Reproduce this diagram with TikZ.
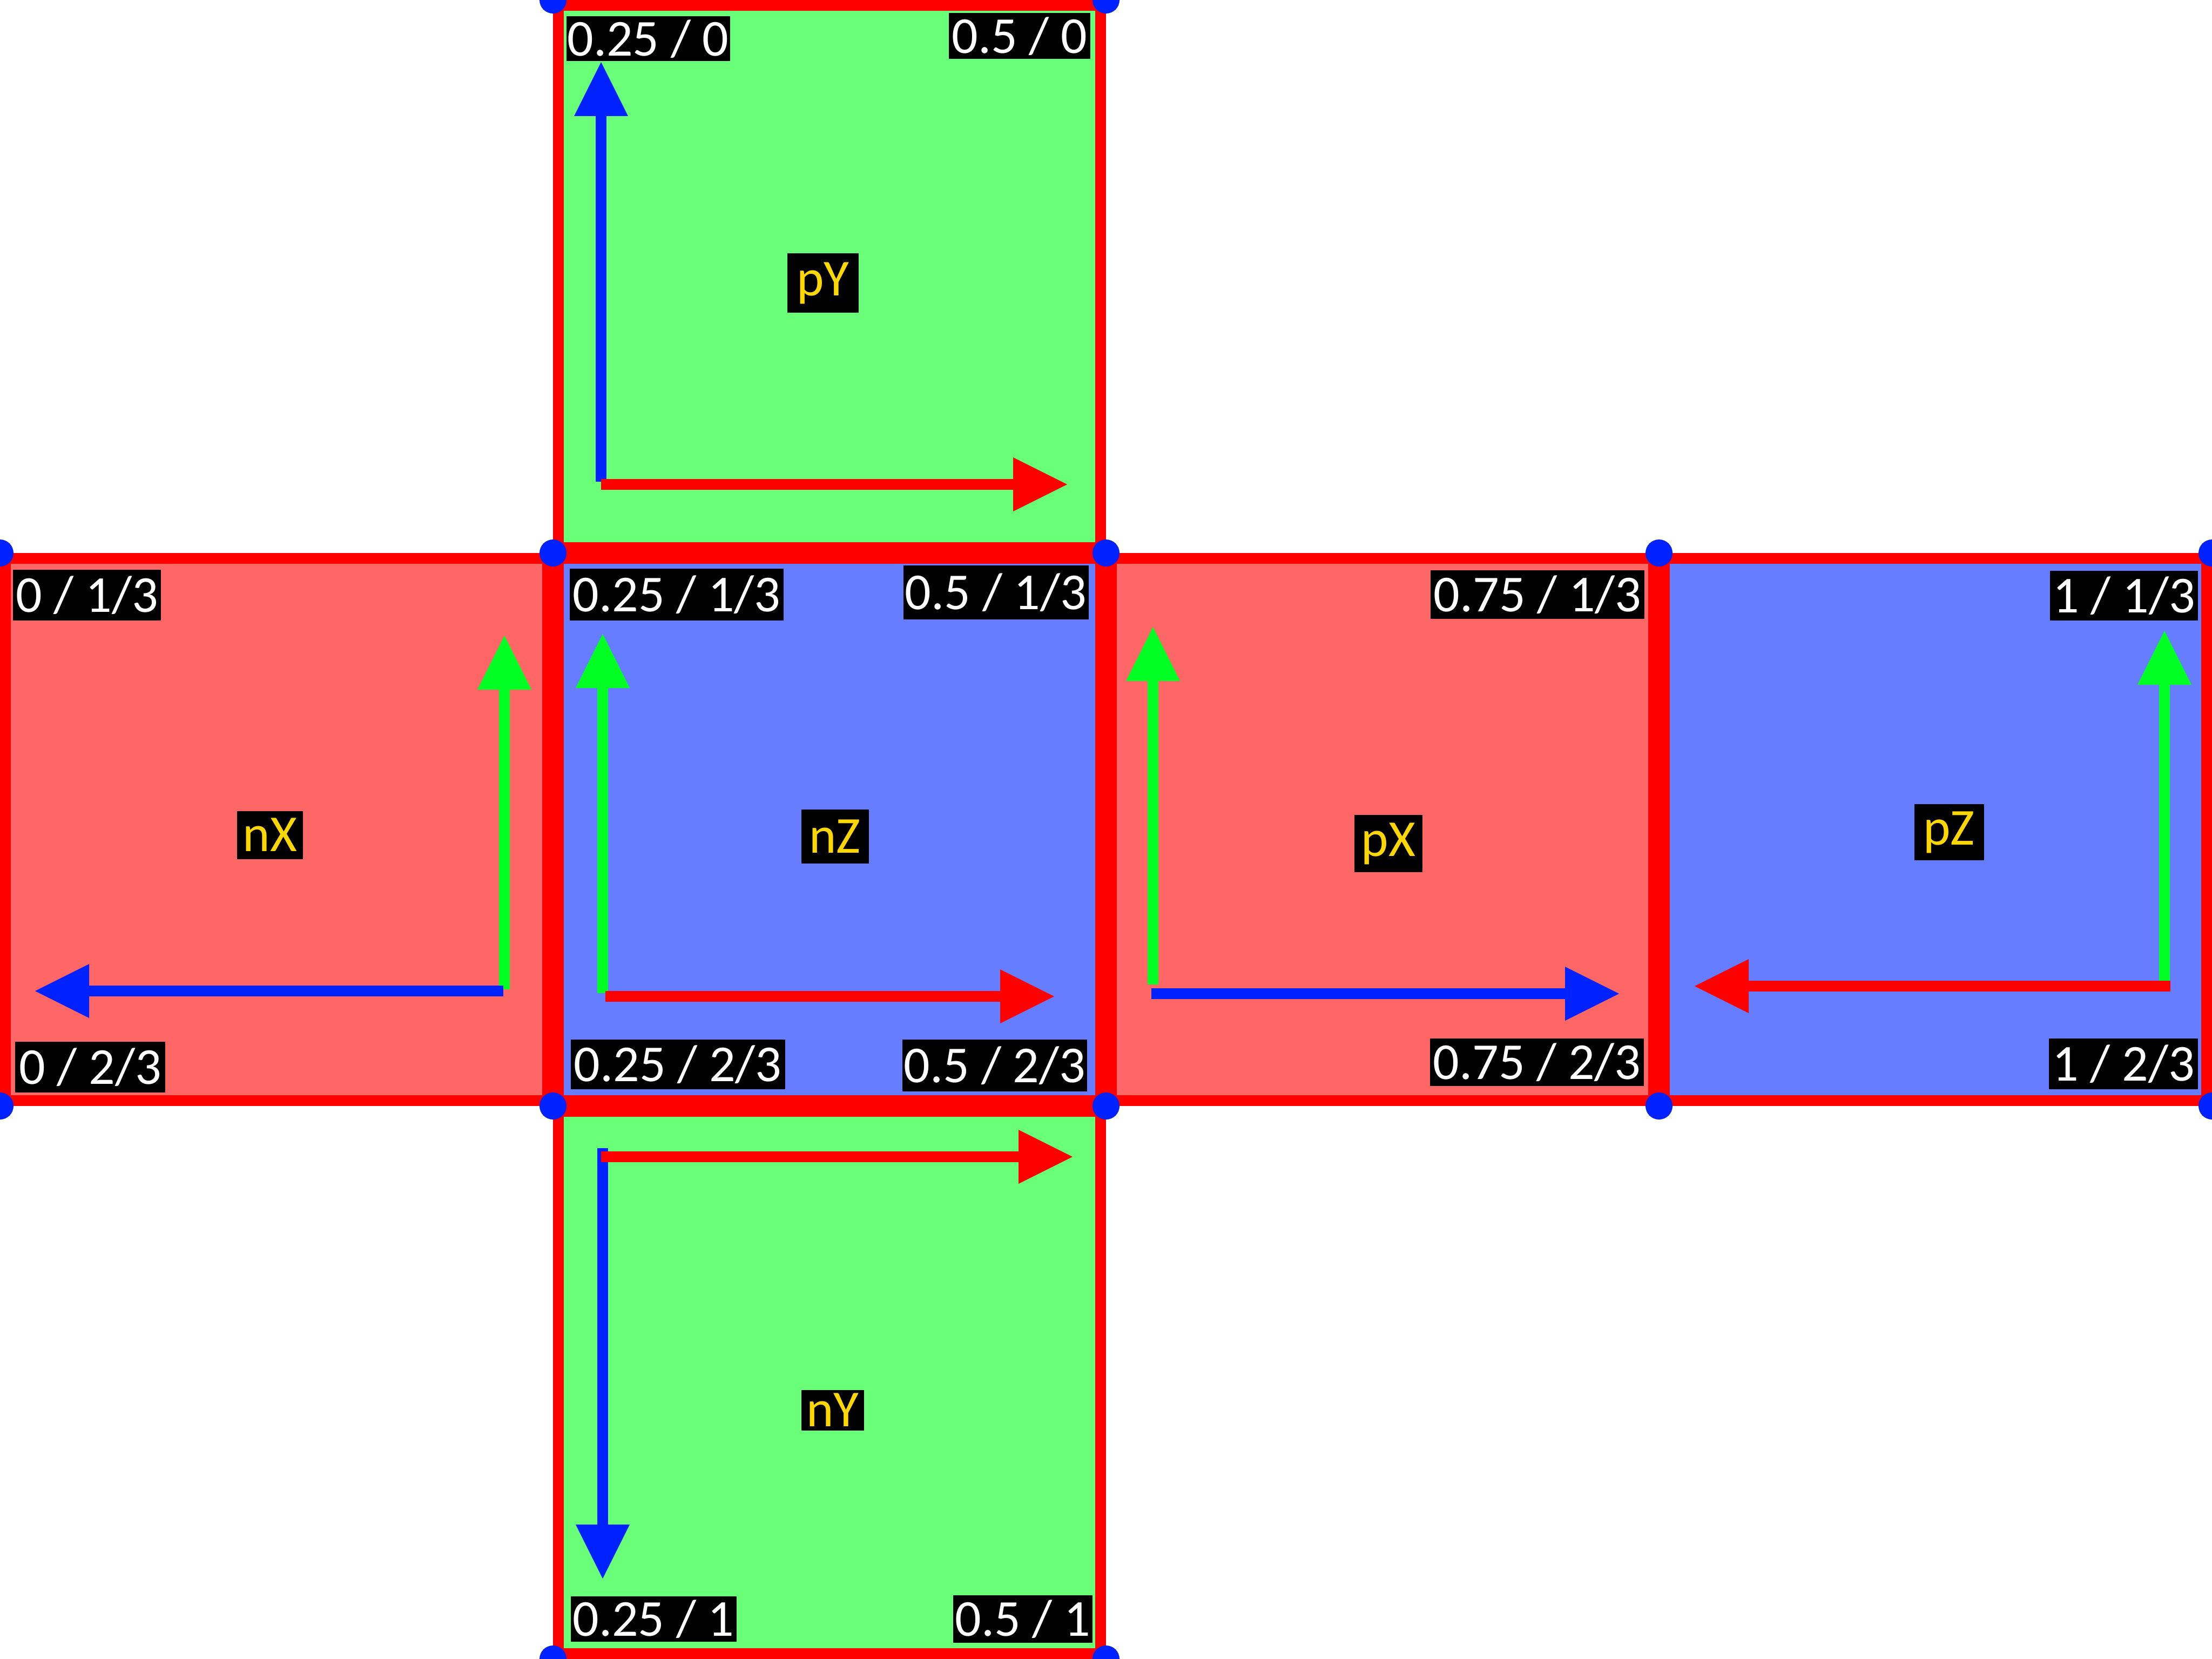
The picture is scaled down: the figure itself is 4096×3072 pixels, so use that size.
\documentclass[tikz,border=0pt]{standalone}
\usepackage{fontspec}
\setmainfont{Carlito}
\usetikzlibrary{arrows.meta}
\definecolor{facered}{RGB}{255,102,102}
\definecolor{faceblue}{RGB}{102,125,255}
\definecolor{facegreen}{RGB}{105,255,120}
\definecolor{edgered}{RGB}{255,0,0}
\definecolor{dotblue}{RGB}{0,34,255}
\definecolor{arrblue}{RGB}{0,34,255}
\definecolor{arrgreen}{RGB}{0,255,34}
\definecolor{arrred}{RGB}{255,0,0}
\definecolor{lblyellow}{RGB}{255,215,0}
\begin{document}
\begin{tikzpicture}[x=1pt,y=-1pt,
  facebox/.style={draw=edgered, line width=20pt},
  axarrow/.style={line width=20pt, -{Triangle[length=100pt,width=100pt,line width=0pt]}},
  cornerlbl/.style={fill=black, text=white, inner sep=0pt, font=\fontsize{96}{110}\selectfont},
  facelbl/.style={fill=black, text=lblyellow, inner sep=0pt, font=\fontsize{96}{110}\selectfont},
  vdot/.style={circle, fill=dotblue, inner sep=0pt, minimum size=50pt}]
\useasboundingbox (0,0) rectangle (4096,3072);
% faces
\draw[facebox, fill=facegreen] (1034,10) rectangle (2038,1014);
\draw[facebox, fill=facered]   (10,1034) rectangle (1014,2038);
\draw[facebox, fill=faceblue]  (1034,1034) rectangle (2038,2038);
\draw[facebox, fill=facered]   (2058,1034) rectangle (3062,2038);
\draw[facebox, fill=faceblue]  (3082,1034) rectangle (4086,2038);
\draw[facebox, fill=facegreen] (1034,2058) rectangle (2038,3062);
% arrow coordinates
\coordinate (pYv0) at (1113,892);  \coordinate (pYv1) at (1113,115);
\coordinate (pYh0) at (1113,897);  \coordinate (pYh1) at (1976,897);
\coordinate (nXv0) at (934,1832);  \coordinate (nXv1) at (934,1177);
\coordinate (nXh0) at (932,1835);  \coordinate (nXh1) at (65,1835);
\coordinate (nZv0) at (1116,1839); \coordinate (nZv1) at (1116,1174);
\coordinate (nZh0) at (1121,1845); \coordinate (nZh1) at (1952,1845);
\coordinate (pXv0) at (2135,1823); \coordinate (pXv1) at (2135,1161);
\coordinate (pXh0) at (2132,1840); \coordinate (pXh1) at (2998,1840);
\coordinate (pZv0) at (4008,1820); \coordinate (pZv1) at (4008,1168);
\coordinate (pZh0) at (4019,1826); \coordinate (pZh1) at (3138,1826);
\coordinate (nYv0) at (1116,2126); \coordinate (nYv1) at (1116,2923);
\coordinate (nYh0) at (1113,2142); \coordinate (nYh1) at (1986,2142);
% arrows
\draw[axarrow, arrblue]  (pYv0) -- (pYv1);
\draw[axarrow, arrred]   (pYh0) -- (pYh1);
\draw[axarrow, arrgreen] (nXv0) -- (nXv1);
\draw[axarrow, arrblue]  (nXh0) -- (nXh1);
\draw[axarrow, arrgreen] (nZv0) -- (nZv1);
\draw[axarrow, arrred]   (nZh0) -- (nZh1);
\draw[axarrow, arrgreen] (pXv0) -- (pXv1);
\draw[axarrow, arrblue]  (pXh0) -- (pXh1);
\draw[axarrow, arrgreen] (pZv0) -- (pZv1);
\draw[axarrow, arrred]   (pZh0) -- (pZh1);
\draw[axarrow, arrblue]  (nYv0) -- (nYv1);
\draw[axarrow, arrred]   (nYh0) -- (nYh1);
% corner labels
\node[cornerlbl, minimum width=303pt, minimum height=83pt] (l1) at (1200,72) {0.25 / 0};
\node[cornerlbl, minimum width=262pt, minimum height=85pt] (l2) at (1888,67) {0.5 / 0};
\node[cornerlbl, minimum width=274pt, minimum height=94pt] (l3) at (161,1102) {0 / 1/3};
\node[cornerlbl, minimum width=396pt, minimum height=96pt] (l4) at (1253,1101) {0.25 / 1/3};
\node[cornerlbl, minimum width=343pt, minimum height=100pt] (l5) at (1844,1097) {0.5 / 1/3};
\node[cornerlbl, minimum width=396pt, minimum height=90pt] (l6) at (2847,1101) {0.75 / 1/3};
\node[cornerlbl, minimum width=274pt, minimum height=92pt] (l7) at (3933,1103) {1 / 1/3};
\node[cornerlbl, minimum width=278pt, minimum height=94pt] (l8) at (167,1976) {0 / 2/3};
\node[cornerlbl, minimum width=397pt, minimum height=92pt] (l9) at (1255,1971) {0.25 / 2/3};
\node[cornerlbl, minimum width=342pt, minimum height=96pt] (l10) at (1842,1973) {0.5 / 2/3};
\node[cornerlbl, minimum width=396pt, minimum height=88pt] (l11) at (2846,1967) {0.75 / 2/3};
\node[cornerlbl, minimum width=276pt, minimum height=94pt] (l12) at (3932,1970) {1 / 2/3};
\node[cornerlbl, minimum width=307pt, minimum height=84pt] (l13) at (1210,2998) {0.25 / 1};
\node[cornerlbl, minimum width=258pt, minimum height=88pt] (l14) at (1894,2998) {0.5 / 1};
% face labels
\node[facelbl, minimum width=132pt, minimum height=110pt] (fpY) at (1524,524) {pY};
\node[facelbl, minimum width=122pt, minimum height=89pt]  (fnX) at (500,1546) {nX};
\node[facelbl, minimum width=125pt, minimum height=100pt] (fnZ) at (1546,1549) {nZ};
\node[facelbl, minimum width=126pt, minimum height=106pt] (fpX) at (2571,1562) {pX};
\node[facelbl, minimum width=129pt, minimum height=104pt] (fpZ) at (3609,1541) {pZ};
\node[facelbl, minimum width=116pt, minimum height=75pt]  (fnY) at (1542,2611) {nY};
% corner dots
\node[vdot] (d1) at (1024,0) {};
\node[vdot] (d2) at (2048,0) {};
\node[vdot] (d3) at (0,1024) {};
\node[vdot] (d4) at (1024,1024) {};
\node[vdot] (d5) at (2048,1024) {};
\node[vdot] (d6) at (3072,1024) {};
\node[vdot] (d7) at (4096,1024) {};
\node[vdot] (d8) at (0,2048) {};
\node[vdot] (d9) at (1024,2048) {};
\node[vdot] (d10) at (2048,2048) {};
\node[vdot] (d11) at (3072,2048) {};
\node[vdot] (d12) at (4096,2048) {};
\node[vdot] (d13) at (1024,3072) {};
\node[vdot] (d14) at (2048,3072) {};
\end{tikzpicture}
\end{document}
